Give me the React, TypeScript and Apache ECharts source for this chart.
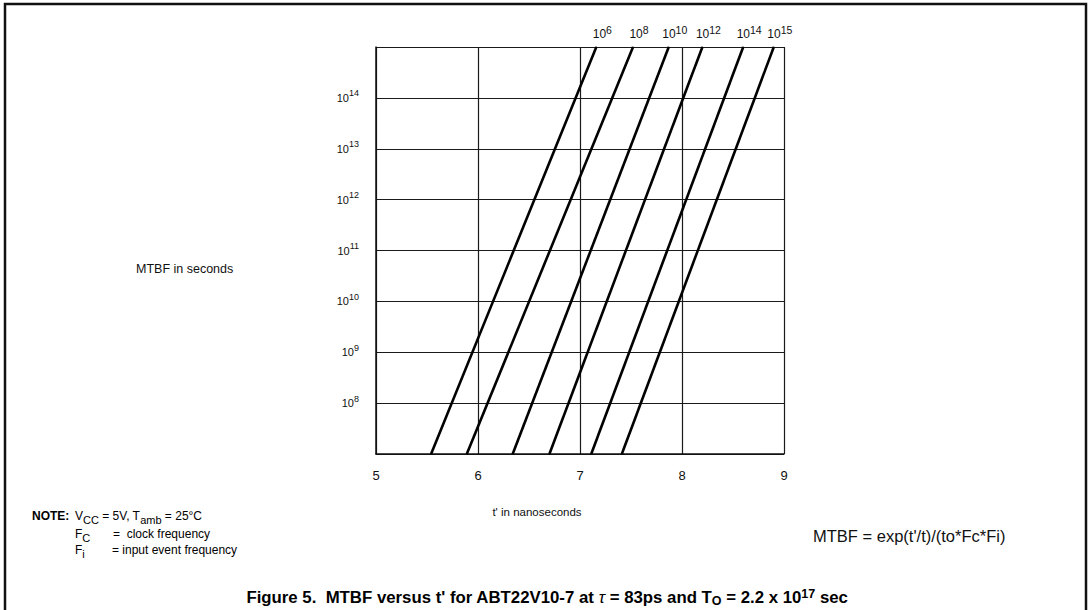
import React, { useEffect, useRef } from "react";
import * as echarts from "echarts";

// Curves: label exponent (Fc*Fi) and where each straight line meets the bottom (1e7) and top (1e15) of the grid
const curveExponents = [6, 8, 10, 12, 14, 15];
const tAtBottom = [5.54, 5.89, 6.34, 6.7, 7.11, 7.41];
const tAtTop = [7.16, 7.52, 7.87, 8.2, 8.6, 8.9];
const mtbfBottom = 1e7;
const mtbfTop = 1e15;
const yLabelExponents = [8, 9, 10, 11, 12, 13, 14];
const xMin = 5;
const xMax = 9;

const FONT = "'Liberation Sans', Arial, Helvetica, sans-serif";
const INK = "#111";

const yRich = {
  b: { fontSize: 11, lineHeight: 18, fontFamily: FONT, color: INK, verticalAlign: "middle" },
  s: { fontSize: 9, lineHeight: 8, fontFamily: FONT, color: INK, verticalAlign: "top" },
};

const topRich = {
  b: { fontSize: 12, lineHeight: 18, fontFamily: FONT, color: INK, verticalAlign: "middle" },
  s: { fontSize: 10.5, lineHeight: 7, fontFamily: FONT, color: INK, verticalAlign: "top" },
};

const noteRich = {
  n: { fontSize: 12, lineHeight: 18, fontFamily: FONT, color: INK, verticalAlign: "middle" },
  nb: { fontSize: 12, lineHeight: 18, fontFamily: FONT, color: INK, fontWeight: "bold", verticalAlign: "middle" },
  sub: { fontSize: 11, lineHeight: 8, fontFamily: FONT, color: INK, verticalAlign: "bottom" },
};

const capRich = {
  b: { fontSize: 16.8, lineHeight: 20, fontFamily: FONT, color: INK, fontWeight: "bold", verticalAlign: "middle" },
  t: { fontSize: 16.8, lineHeight: 20, fontFamily: FONT, color: INK, fontStyle: "italic", verticalAlign: "middle" },
  sub: { fontSize: 12.5, lineHeight: 8, fontFamily: FONT, color: INK, fontWeight: "bold", verticalAlign: "bottom" },
  sup: { fontSize: 12.5, lineHeight: 8, fontFamily: FONT, color: INK, fontWeight: "bold", verticalAlign: "top" },
};

export default function App() {
  const ref = useRef<HTMLDivElement>(null);

  useEffect(() => {
    if (!ref.current) return;
    const chart = echarts.init(ref.current, undefined, { renderer: "svg" });

    const series = curveExponents.map((exp, i) => ({
      type: "line",
      name: `10^${exp}`,
      symbol: "circle",
      symbolSize: 1,
      itemStyle: { color: "#000" },
      lineStyle: { color: "#000", width: 2.6 },
      silent: true,
      data: [
        [tAtBottom[i], mtbfBottom],
        {
          value: [tAtTop[i], mtbfTop],
          label: {
            show: true,
            position: "top",
            distance: 4,
            offset: [6, 0],
            color: INK,
            formatter: `{b|10}{s|${exp}}`,
            rich: topRich,
          },
        },
      ],
    }));

    const gridLine = { color: "#1a1a1a", width: 1.2 };

    chart.setOption({
      animation: false,
      backgroundColor: "#fff",
      grid: { left: 376, top: 47, width: 408, height: 407, containLabel: false },
      xAxis: {
        type: "value",
        min: xMin,
        max: xMax,
        interval: 1,
        axisLine: { show: true, lineStyle: { color: INK, width: 1.5 } },
        axisTick: { show: false },
        splitLine: { show: true, lineStyle: gridLine },
        axisLabel: { fontSize: 13, fontFamily: FONT, color: INK, margin: 15 },
      },
      yAxis: {
        type: "log",
        logBase: 10,
        min: mtbfBottom,
        max: mtbfTop,
        interval: 1,
        axisLine: { show: true, lineStyle: { color: INK, width: 1.5 } },
        axisTick: { show: false },
        splitLine: { show: true, lineStyle: gridLine },
        axisLabel: {
          margin: 17,
          color: INK,
          formatter: (v: number) => {
            const e = Math.round(Math.log10(v));
            return yLabelExponents.includes(e) ? `{b|10}{s|${e}}` : "";
          },
          rich: yRich,
        },
      },
      series,
      graphic: [
        {
          type: "rect",
          shape: { x: 5, y: 4, width: 1081, height: 640 },
          style: { fill: "none", stroke: INK, lineWidth: 2.5 },
          silent: true,
        },
        {
          type: "text",
          x: 136,
          y: 269,
          style: { text: "MTBF in seconds", font: `12.5px ${FONT}`, fill: INK, textAlign: "left", textVerticalAlign: "middle" },
        },
        {
          type: "text",
          x: 537,
          y: 512,
          style: { text: "t' in nanoseconds", font: `11.5px ${FONT}`, fill: INK, textAlign: "center", textVerticalAlign: "middle" },
        },
        {
          type: "text",
          x: 32,
          y: 516,
          style: { text: "{nb|NOTE:}", rich: noteRich, textAlign: "left", textVerticalAlign: "middle" },
        },
        {
          type: "text",
          x: 75,
          y: 516,
          style: { text: "{n|V}{sub|CC}{n| = 5V, T}{sub|amb}{n| = 25°C}", rich: noteRich, textAlign: "left", textVerticalAlign: "middle" },
        },
        {
          type: "text",
          x: 75,
          y: 534,
          style: { text: "{n|F}{sub|C}", rich: noteRich, textAlign: "left", textVerticalAlign: "middle" },
        },
        {
          type: "text",
          x: 113,
          y: 534,
          style: { text: "{n|=  clock frequency}", rich: noteRich, textAlign: "left", textVerticalAlign: "middle" },
        },
        {
          type: "text",
          x: 75,
          y: 550,
          style: { text: "{n|F}{sub|i}", rich: noteRich, textAlign: "left", textVerticalAlign: "middle" },
        },
        {
          type: "text",
          x: 112,
          y: 550,
          style: { text: "{n|= input event frequency}", rich: noteRich, textAlign: "left", textVerticalAlign: "middle" },
        },
        {
          type: "text",
          x: 813,
          y: 536,
          style: { text: "MTBF = exp(t'/t)/(to*Fc*Fi)", font: `16.5px ${FONT}`, fill: INK, textAlign: "left", textVerticalAlign: "middle" },
        },
        {
          type: "text",
          x: 547,
          y: 597,
          style: {
            text: "{b|Figure 5.  MTBF versus t' for ABT22V10-7 at }{t|τ}{b| = 83ps and T}{sub|O}{b| = 2.2 x 10}{sup|17}{b| sec}",
            rich: capRich,
            textAlign: "center",
            textVerticalAlign: "middle",
          },
        },
      ],
    });

    return () => chart.dispose();
  }, []);

  return (
    <div
      ref={ref}
      style={{ position: "fixed", left: 0, top: 0, width: 1089, height: 610, background: "#fff" }}
    />
  );
}
